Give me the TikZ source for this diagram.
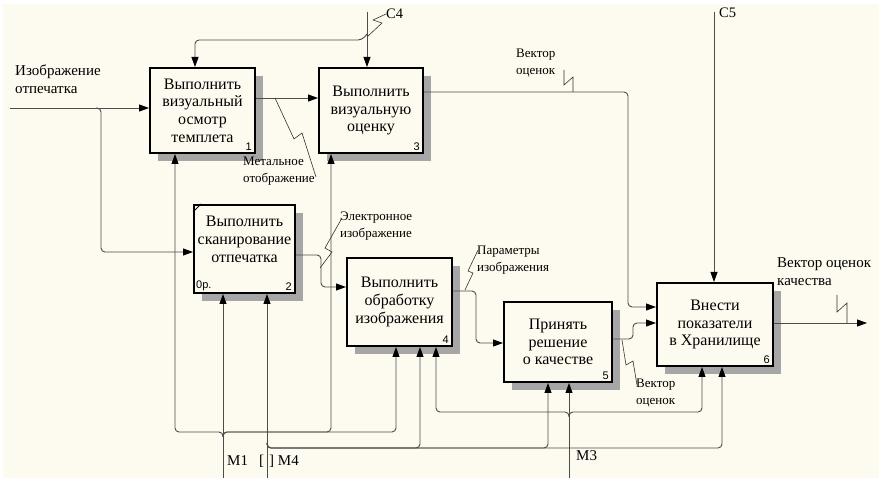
\documentclass[tikz,border=0pt]{standalone}
\usepackage{fontspec}
\setmainfont{Liberation Serif}
\setsansfont{Liberation Sans}
\usepackage{tikz}
\usetikzlibrary{arrows.meta,shadows,calc}
\definecolor{cream}{RGB}{253,250,239}
\tikzstyle{func}=[draw, line width=2pt, fill=cream, align=center, inner sep=2pt,
  font=\fontsize{16}{17.6}\selectfont,
  drop shadow={shadow xshift=8pt, shadow yshift=-8pt, fill=black!35, opacity=1}]
\tikzstyle{numtag}=[inner sep=0pt, font=\sffamily\fontsize{11}{12}\selectfont]
\tikzstyle{conn}=[draw=black!70, line width=0.9pt, -{Triangle[length=10pt,width=7pt,color=black]}]
\tikzstyle{branch}=[conn, rounded corners=4pt]
\tikzstyle{squig}=[draw=black!80, line width=0.6pt]
\tikzstyle{note}=[inner sep=0pt, anchor=north west, align=left, font=\fontsize{13}{16.5}\selectfont]
\tikzstyle{bignote}=[note, font=\fontsize{15}{18}\selectfont]

\begin{document}
\begin{tikzpicture}[x=1pt, y=-1pt]
\useasboundingbox (0,0) rectangle (879,478);
\fill[cream] (3,4) rectangle (879,478);

% functions
\foreach \pos/\w/\h/\label/\name in {
	{(202.5,110.5)/105/85/b1/Выполнить\\визуальный\\осмотр\\темплета},
	{(244.5,249)/101/88/b2/Выполнить\\сканирование\\отпечатка\\[2pt]},
	{(371,110.5)/104/85/b3/Выполнить\\визуальную\\оценку},
	{(399.5,302)/105/88/b4/Выполнить\\обработку\\изображения},
	{(558,342)/108/80/b5/Принять\\решение\\о качестве},
	{(715,324.5)/116/83/b6/Внести\\показатели\\в Хранилище}}
\node[func, minimum width=\w pt, minimum height=\h pt] (\label) at \pos {\name};

\foreach \label/\num in {b1/1, b2/2, b3/3, b4/4, b5/5, b6/6}
\node[numtag, anchor=south east] (n\label) at ([xshift=-4pt,yshift=3pt]\label.south east) {\num};
\node[numtag, anchor=south west] (nodeb2) at ([xshift=3pt,yshift=3pt]b2.south west) {0р.};
\draw[line width=1pt] ([yshift=-8pt]b2.north west) -- ([xshift=8pt]b2.north west);

% free ends and junctions
\coordinate (in1) at (10,108);
\coordinate (j1) at (96,108);
\coordinate (c4) at (367,12);
\coordinate (j2) at (367,34);
\coordinate (c5) at (714,12);
\coordinate (out) at (867,323);
\coordinate (m1) at (223,478);
\coordinate (j3) at (223,437);
\coordinate (m4) at (267,478);
\coordinate (j4) at (267,443);
\coordinate (m3) at (569,478);
\coordinate (j5) at (569,417);

% inputs, controls, outputs
\draw[conn] (in1) -- (in1 -| b1.west);
\draw[branch] (j1) -- ++(5,0) |- ([yshift=-3pt]b2.west);
\draw[conn] (c4) -- (c4 |- b3.north);
\draw[branch] (j2) -- ++(-5,6) -| ([xshift=-7.5pt]b1.north);
\draw[conn] ([yshift=12.5pt]b1.east) -- ([yshift=12.5pt]b3.west);
\draw[branch] ([yshift=18.5pt]b3.east) -| ([xshift=-28pt,yshift=17.5pt]b6.west) -- ([yshift=17.5pt]b6.west);
\draw[branch] ([yshift=-6pt]b2.east) -- ++(25,0) |- ([yshift=15pt]b4.west);
\draw[branch] ([yshift=11pt]b4.east) -- ++(23,0) |- ([yshift=-1pt]b5.west);
\draw[branch] ([yshift=3pt]b5.east) -- ++(20,0) |- ([yshift=1.5pt]b6.west);
\draw[conn] (c5) -- (c5 |- b6.north);
\draw[conn] ([yshift=1.5pt]b6.east) -- (out);

% mechanisms
\draw[conn] (m1) -- (m1 |- b2.south);
\draw[branch] (j3) -- ++(0,-5) -| ([xshift=-27.5pt]b1.south);
\draw[branch] (j3) -- ++(0,-5) -| ([xshift=-40pt]b3.south);
\draw[branch] (j3) -- ++(0,-5) -| ([xshift=-3.5pt]b4.south);
\draw[conn] (m4) -- (m4 |- b2.south);
\draw[branch] (j4) -- ++(0,5) -| ([xshift=20.5pt]b4.south);
\draw[branch] (j4) -- ++(0,5) -| ([xshift=-10pt]b5.south);
\draw[branch] (j4) -- ++(0,5) -| ([xshift=7pt]b6.south);
\draw[conn] (m3) -- (m3 |- b5.south);
\draw[branch] (j5) -- ++(0,-5) -| ([xshift=36.5pt]b4.south);
\draw[branch] (j5) -- ++(0,-5) -| ([xshift=-13pt]b6.south);

% labels
\node[bignote] (lin) at (15,65) {Изображение\\отпечатка};
\node[note] (lmet) at (243,157) {Метальное\\отображение};
\node[note] (lvec) at (516,49) {Вектор\\оценок};
\node[note] (lel) at (340,212) {Электронное\\изображение};
\node[note] (lpar) at (477,246) {Параметры\\изображения};
\node[note] (lvec2) at (636,379) {Вектор\\оценок};
\node[bignote] (lout) at (777,257) {Вектор оценок\\качества};
\node[bignote, font=\fontsize{14.5}{17}\selectfont] (lc4) at (386,9) {C4};
\node[bignote, font=\fontsize{14.5}{17}\selectfont] (lc5) at (719,8) {C5};
\node[bignote] (lm1) at (227,455) {M1};
\node[bignote] (lm4) at (259,455) {[\hspace{5pt}]\ M4};
\node[bignote] (lm3) at (576,450) {M3};

% squiggles
\draw[squig] (275,98) -- (294,139) -- (302,133) -- (316,177);
\draw[squig] (367,37) -- (382,23) -- (373,20) -- (386,14);
\draw[squig] (573,92) -- (573,77) -- (564,85) -- (564,70);
\draw[squig] (320,268) -- (332,252) -- (325,248) -- (342,218);
\draw[squig] (465,290) -- (473,273) -- (468,271) -- (478,250);
\draw[squig] (622,340) -- (626,365) -- (633,361) -- (637,385);
\draw[squig] (847,323) -- (847,303) -- (837,312) -- (837,295);

\end{tikzpicture}
\end{document}
